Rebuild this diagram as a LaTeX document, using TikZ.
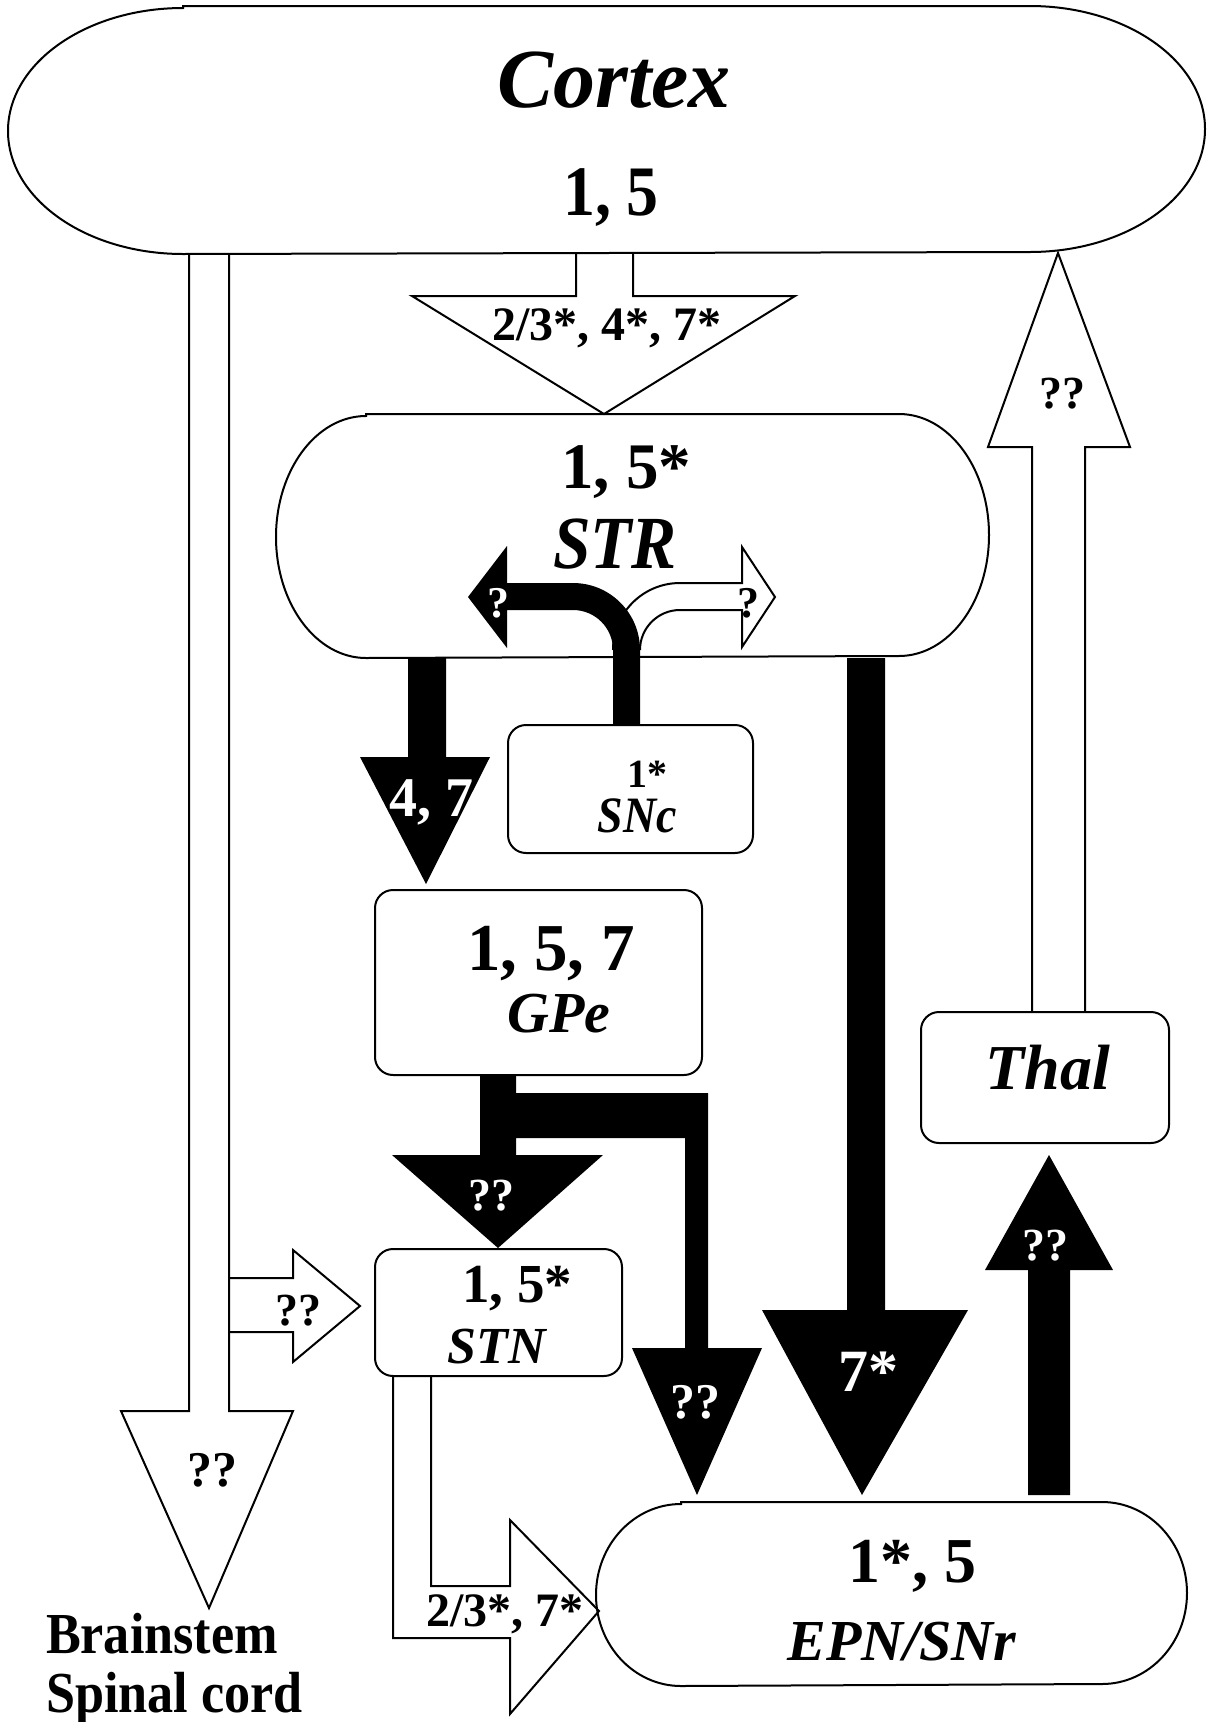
\documentclass[tikz,border=0pt]{standalone}
\usepackage{fontspec}
\setmainfont{Liberation Serif}
\newfontfamily\narrowserif{Liberation Serif}[FakeStretch=0.9]

\newcommand{\fsz}[1]{\fontsize{#1}{#1}\selectfont}
% outline with half-ellipse ends around an empty node
\newcommand{\ovalline}[3]{%
  \draw ([xshift=#2]#1.north west) -- ([xshift=-#2]#1.north east)
    arc[start angle=90, end angle=-90, x radius=#2, y radius=#3]
    -- ([xshift=#2]#1.south west)
    arc[start angle=270, end angle=90, x radius=#2, y radius=#3] -- cycle;}

\begin{document}
\begin{tikzpicture}[
    x=1pt, y=-1pt, line width=2pt,
    oval/.style={inner sep=0pt},
    region/.style={draw, rounded corners=18pt, inner sep=0pt},
    numtext/.style={anchor=base, inner sep=0pt, font=\bfseries\fsz{#1}},
    areaname/.style={anchor=base, inner sep=0pt, font=\bfseries\itshape\fsz{#1}},
    narrowtext/.style={anchor=base, inner sep=0pt, font=\narrowserif\bfseries\fsz{#1}},
    narrowname/.style={narrowtext=#1, font=\narrowserif\bfseries\itshape\fsz{#1}},
    negtext/.style={numtext=#1, text=white},
    hollow/.style={draw, line join=miter}
   ]
   \useasboundingbox (0,0) rectangle (1207,1722);

   % areas
   \node[oval, minimum width=1195pt, minimum height=246pt] (ctx) at (606.5,130) {};
   \node[oval, minimum width=711pt, minimum height=242pt] (str) at (632.5,536) {};
   \node[oval, minimum width=589pt, minimum height=182pt] (epn) at (891.5,1594) {};
   \node[region, minimum width=245pt, minimum height=128pt] (snc) at (630.5,789) {};
   \node[region, minimum width=327pt, minimum height=185pt] (gpe) at (538.5,982.5) {};
   \node[region, minimum width=248pt, minimum height=131pt] (thal) at (1045,1077.5) {};
   \node[region, minimum width=247pt, minimum height=127pt] (stn) at (498.5,1312.5) {};
   \ovalline{ctx}{175pt}{123pt}
   \ovalline{str}{90pt}{121pt}
   \ovalline{epn}{85pt}{91pt}

   % open arrows
   \draw[hollow] (ctx.south -| 576,0) -- (576,296) -- (412,296) -- (str.north -| 604,0)
     -- (795,296) -- (633,296) -- (ctx.south -| 633,0);
   \draw[hollow] (ctx.south -| 189,0) -- (189,1411) -- (121,1411) -- (209,1608)
     -- (293,1411) -- (229,1411) -- (ctx.south -| 229,0);
   \draw[hollow] (thal.north -| 1032,0) -- (1032,447) -- (988,447) -- (1058,253)
     -- (1130,447) -- (1085,447) -- (thal.north -| 1085,0);
   \draw[hollow] (229,1278) -- (293,1278) -- (293,1250) -- (360,1306)
     -- (293,1362) -- (293,1332) -- (229,1332);
   \draw[hollow] (stn.south -| 393,0) -- (393,1638) -- (510,1638) -- (510,1714)
     -- (599,1611) -- (510,1520) -- (510,1586) -- (431,1586) -- (stn.south -| 431,0);
   \draw[hollow] (640,650) arc[start angle=180, end angle=90, radius=40pt]
     -- (742,610) -- (742,647) -- (775,597) -- (742,547) -- (742,583) -- (680,583)
     arc[start angle=90, end angle=180, radius=67pt];

   % filled arrows
   \fill (snc.north -| 613,0) -- (613,650) arc[start angle=0, end angle=90, radius=40pt]
     -- (507,610) -- (507,648) -- (468,597) -- (507,546) -- (507,583) -- (573,583)
     arc[start angle=90, end angle=0, radius=67pt] -- (snc.north -| 640,0) -- cycle;
   \fill (str.south -| 408,0) -- (408,757) -- (360,757) -- (426,884)
     -- (490,757) -- (446,757) -- (str.south -| 446,0) -- cycle;
   \fill (str.south -| 847,0) -- (847,1310) -- (762,1310) -- (862,1495)
     -- (968,1310) -- (885,1310) -- (str.south -| 885,0) -- cycle;
   \fill (gpe.south -| 480,0) -- (480,1155) -- (392,1155) -- (stn.north -| 498,0)
     -- (603,1155) -- (516,1155) -- (516,1138) -- (685,1138) -- (685,1348)
     -- (632,1348) -- (697,1495) -- (762,1348) -- (708,1348) -- (708,1093)
     -- (516,1093) -- (gpe.south -| 516,0) -- cycle;
   \fill (1028,1495) -- (1028,1270) -- (985,1270) -- (1049,1155)
     -- (1113,1270) -- (1070,1270) -- (1070,1495) -- cycle;

   % area texts
   \node[areaname=84] (ctxname) at (614,107) {Cortex};
   \node[narrowtext=71] (ctxnum) at (611,215) {1, 5};
   \node[numtext=65] (strnum) at (626,488) {1, 5*};
   \node[narrowname=75] (strname) at (615,568) {STR};
   \node[numtext=40] (sncnum) at (647,787) {1*};
   \node[narrowname=51] (sncname) at (637,832) {SNc};
   \node[numtext=67] (gpenum) at (551,970) {1, 5, 7};
   \node[areaname=58] (gpename) at (559,1032) {GPe};
   \node[areaname=64] (thalname) at (1048,1089) {Thal};
   \node[numtext=55] (stnnum) at (517,1302) {1, 5*};
   \node[areaname=52] (stnname) at (497,1363) {STN};
   \node[numtext=64] (epnnum) at (912,1582) {1*, 5};
   \node[areaname=58] (epnname) at (902,1660) {EPN/SNr};
   \node[narrowtext=58, anchor=base west] (brain) at (45,1653) {Brainstem};
   \node[narrowtext=58, anchor=base west] (cord) at (45,1712) {Spinal cord};

   % arrow texts
   \node[numtext=48] (lblcs) at (607,340) {2/3*, 4*, 7*};
   \node[numtext=46] (lbltc) at (1062,408) {??};
   \node[negtext=56] (lblsg) at (431,816) {4, 7};
   \node[negtext=44] (lblnl) at (498,617) {?};
   \node[numtext=44] (lblnr) at (748,617) {?};
   \node[negtext=60] (lblse) at (868,1391) {7*};
   \node[negtext=46] (lblgs) at (491,1210) {??};
   \node[negtext=50] (lblge) at (695,1418) {??};
   \node[negtext=46] (lblet) at (1045,1260) {??};
   \node[numtext=46] (lblin) at (298,1325) {??};
   \node[numtext=50] (lblbs) at (212,1486) {??};
   \node[numtext=48] (lblsn) at (505,1626) {2/3*, 7*};
  \end{tikzpicture}
\end{document}
